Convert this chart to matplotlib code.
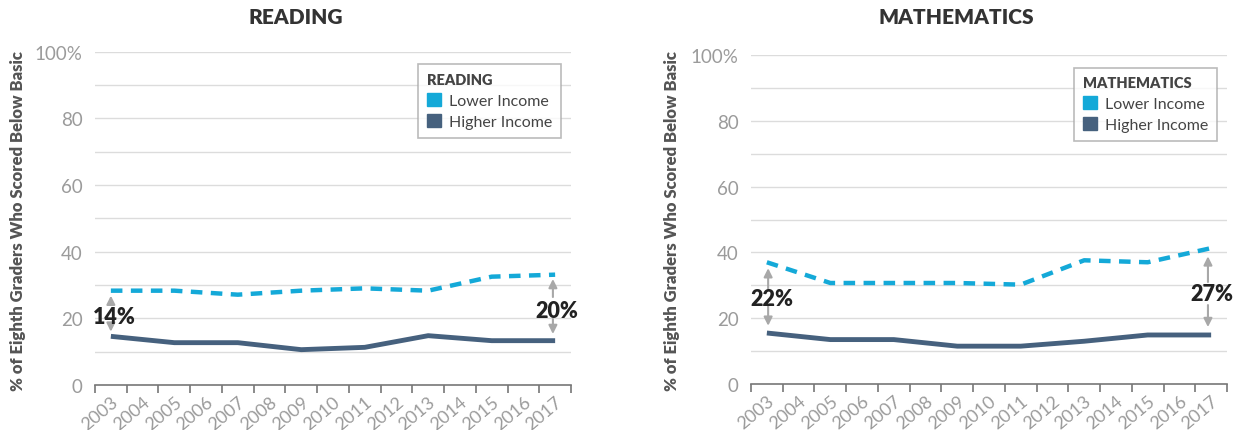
import numpy as np
import matplotlib
matplotlib.use("Agg")
import matplotlib.pyplot as plt
import matplotlib.transforms as mtransforms
from matplotlib.patches import Patch

plt.rcParams['font.family'] = ['Lato', 'DejaVu Sans']

years = [str(y) for y in range(2003, 2018)]
test_years = [2003, 2005, 2007, 2009, 2011, 2013, 2015, 2017]

reading_lower = [28.3, 28.3, 27.1, 28.3, 29.0, 28.3, 32.5, 33.1]
reading_higher = [14.6, 12.7, 12.7, 10.6, 11.3, 14.8, 13.3, 13.3]
math_lower = [37.0, 30.7, 30.7, 30.7, 30.2, 37.6, 37.0, 41.3]
math_higher = [15.5, 13.5, 13.5, 11.5, 11.5, 13.0, 14.9, 14.9]

reading_gaps = ["14%", "20%"]
math_gaps = ["22%", "27%"]

c_lower = "#14a9d8"
c_higher = "#46617e"
c_grid = "#dcdcdc"
c_tick = "#9b9b9b"
c_arrow = "#a8a8a8"

fig = plt.figure(figsize=(12.39, 4.31), dpi=100)
ax1 = fig.add_axes([95 / 1239, 1 - 386 / 431, 476 / 1239, 333.3 / 431])
ax2 = fig.add_axes([751 / 1239, 1 - 385 / 431, 476 / 1239, 329 / 431])


def draw_panel(ax, name, lower, higher, gaps, ann):
    xs = [y - 2003 for y in test_years]
    for v in range(10, 101, 10):
        ax.axhline(v, color=c_grid, lw=1.0, zorder=0)
    ax.plot(xs, lower, color=c_lower, lw=3.2, ls=(0, (2.6, 1.9)), zorder=3)
    ax.plot(xs, higher, color=c_higher, lw=3.5, solid_capstyle='butt', zorder=3)

    ax.set_xlim(-0.5, 14.5)
    ax.set_ylim(0, 100)
    ax.set_xticks(np.arange(-0.5, 15, 1))
    ax.set_xticklabels([])
    ax.set_xticks(np.arange(0, 15), minor=True)
    labs = ax.set_xticklabels(years, minor=True, rotation=40, ha='right',
                              rotation_mode='anchor', fontsize=13, color=c_tick)
    shift = mtransforms.ScaledTranslation(6 / 100, 0, fig.dpi_scale_trans)
    for t in labs:
        t.set_transform(t.get_transform() + shift)
    ax.tick_params(axis='x', which='major', length=6, width=1.2, color='#777777')
    ax.tick_params(axis='x', which='minor', length=0, pad=6)
    ax.set_yticks([0, 20, 40, 60, 80, 100])
    ax.set_yticklabels(['0', '20', '40', '60', '80', '100%'], fontsize=13.5, color=c_tick)
    ax.tick_params(axis='y', length=0, pad=9)
    for s in ['top', 'right', 'left']:
        ax.spines[s].set_visible(False)
    ax.spines['bottom'].set_color('#777777')
    ax.spines['bottom'].set_linewidth(1.2)

    handles = [Patch(color=c_lower, label="Lower Income"),
               Patch(color=c_higher, label="Higher Income")]
    leg = ax.legend(handles=handles, title=name, loc='upper left',
                    bbox_to_anchor=(0.679, 0.962), borderaxespad=0, fontsize=11.5,
                    title_fontproperties={'weight': 'heavy', 'size': 10.5},
                    alignment='left', frameon=True, fancybox=False,
                    edgecolor='#aaaaaa', handlelength=0.9, handleheight=0.9,
                    handletextpad=0.5, borderpad=0.55, labelspacing=0.4)
    leg.get_frame().set_linewidth(1.2)
    leg.get_title().set_color('#444444')
    for t in leg.get_texts():
        t.set_color('#444444')

    for (tx, ty, label, ax_x, up, down) in zip(ann['tx'], ann['ty'], gaps,
                                              ann['ax'], ann['up'], ann['down']):
        ax.text(tx, ty, label, fontsize=15.5, fontweight='heavy', color='#222222',
                ha='center', va='center', zorder=5)
        ax.annotate("", xy=(ax_x, up[1]), xytext=(ax_x, up[0]),
                    arrowprops=dict(arrowstyle='-|>,head_length=0.5,head_width=0.25',
                                    color=c_arrow, lw=1.5, shrinkA=0, shrinkB=0))
        ax.annotate("", xy=(ax_x, down[1]), xytext=(ax_x, down[0]),
                    arrowprops=dict(arrowstyle='-|>,head_length=0.5,head_width=0.25',
                                    color=c_arrow, lw=1.5, shrinkA=0, shrinkB=0))


draw_panel(ax1, "READING", reading_lower, reading_higher, reading_gaps,
           dict(tx=[0.1, 14.06], ty=[20.5, 22.3], ax=[0.0, 13.93],
                up=[(25.0, 26.8), (26.4, 31.8)], down=[(18.0, 16.0), (19.8, 15.3)]))
draw_panel(ax2, "MATHEMATICS", math_lower, math_higher, math_gaps,
           dict(tx=[0.15, 14.03], ty=[26.1, 27.6], ax=[0.04, 13.9],
                up=[(28.9, 35.2), (31.0, 38.8)], down=[(23.7, 17.7), (24.0, 17.3)]))

ylab = "% of Eighth Graders Who Scored Below Basic"
fig.text(18 / 1239, 1 - 221 / 431, ylab, rotation=90, fontsize=12, fontweight='heavy',
         color='#555555', ha='center', va='center')
fig.text(672 / 1239, 1 - 221 / 431, ylab, rotation=90, fontsize=12, fontweight='heavy',
         color='#555555', ha='center', va='center')

fig.text(296 / 1239, 1 - 18 / 431, "READING", fontsize=15, fontweight='heavy',
         color='#333333', ha='center', va='center')
fig.text(956 / 1239, 1 - 18 / 431, "MATHEMATICS", fontsize=15, fontweight='heavy',
         color='#333333', ha='center', va='center')

fig.savefig("out.png", dpi=100)
